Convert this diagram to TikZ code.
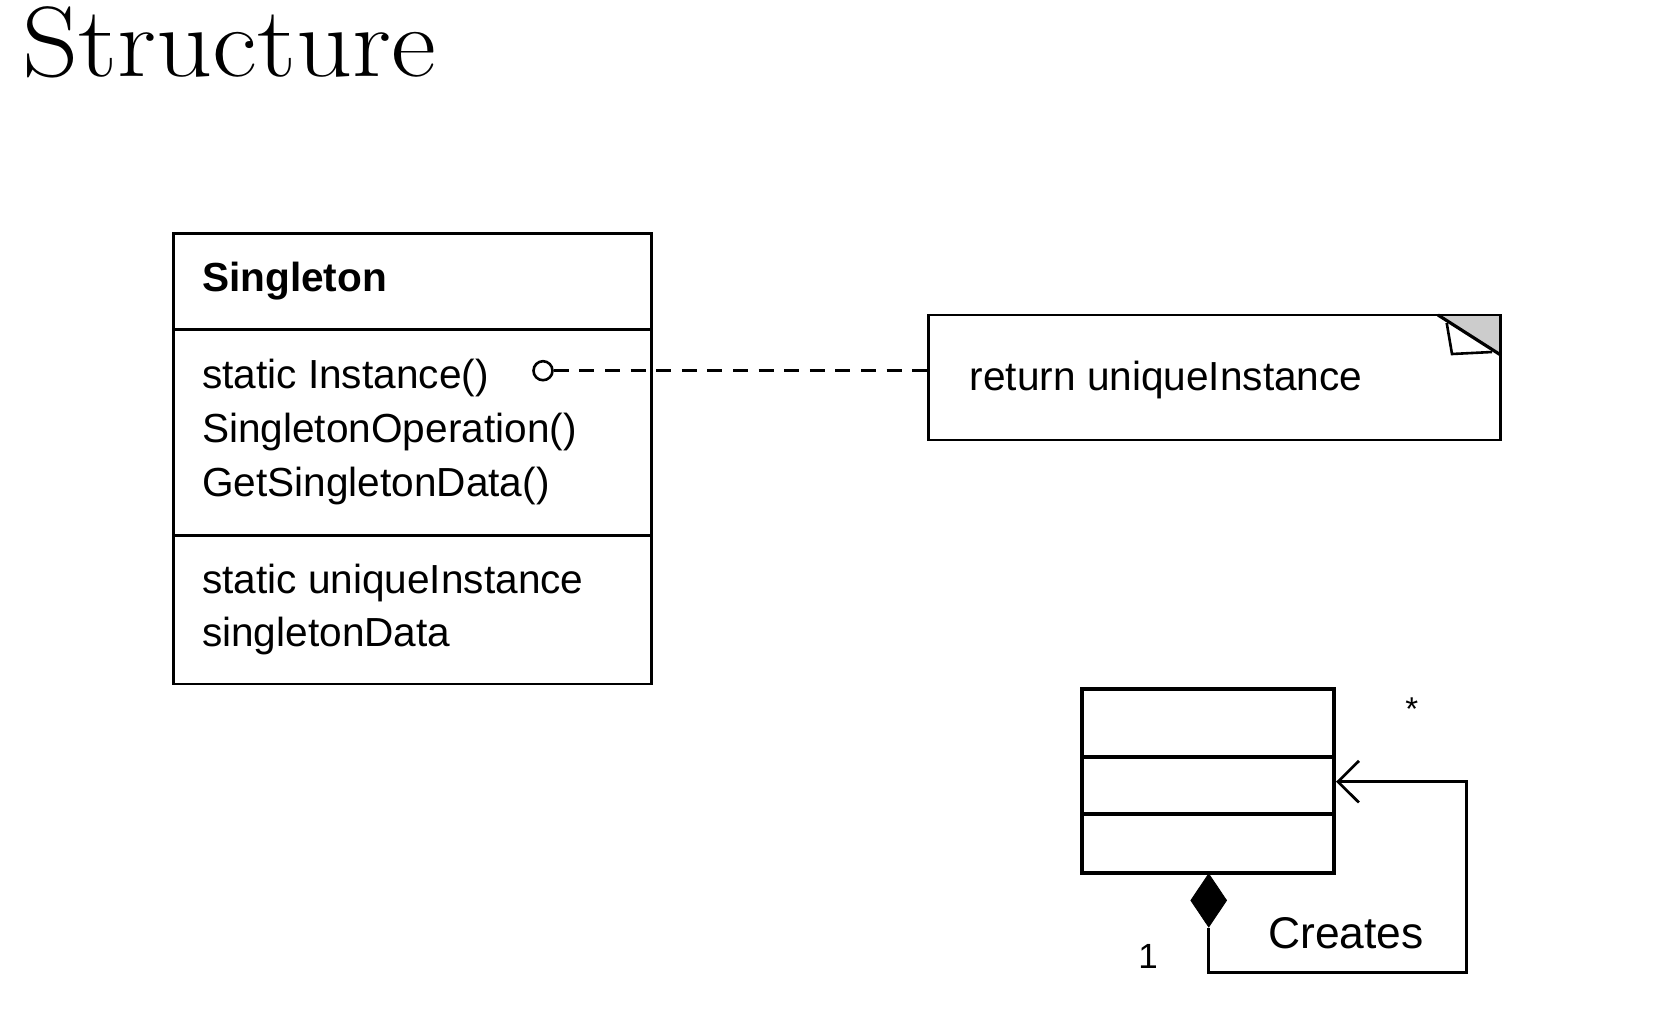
\documentclass[tikz,border=0pt]{standalone}
\usepackage{fontspec}
\setsansfont{Liberation Sans}
\usetikzlibrary{arrows.meta,shapes.geometric}
\begin{document}
\begin{tikzpicture}[x=0.5pt,y=-0.5pt,
  txt/.style={anchor=base west,inner sep=0pt,font=\sffamily\fontsize{20.3}{27}\selectfont},
  boldtxt/.style={txt,font=\sffamily\bfseries\fontsize{20.3}{27}\selectfont},
  classbox/.style={draw,line width=1.4pt,inner sep=0pt},
  thickbox/.style={draw,line width=2pt,inner sep=0pt},
  conn/.style={line width=1.35pt},
  dashconn/.style={line width=1.4pt,dash pattern=on 7.5pt off 5.3pt},
  lollipop/.style={circle,draw,line width=1.3pt,inner sep=0pt,minimum size=9.5pt,fill=white},
  composite/.style={diamond,fill=black,draw=black,inner sep=0pt,minimum width=18pt,minimum height=26.7pt},
  notebox/.style={draw,line width=1.4pt,inner sep=0pt}
]
\useasboundingbox (0,0) rectangle (1653,1013);

% title
\node[anchor=base west,inner sep=0pt,font=\fontsize{50}{60}\selectfont] (title) at (21.7,76) {\scalebox{1.1}[1.0]{Structure}};

% Singleton class
\node[classbox,minimum width=239.2pt,minimum height=225.35pt] (single) at (412.5,458.65) {};
\coordinate (d1) at (173.3,329.3);
\coordinate (d2) at (173.3,535.5);
\draw[line width=1.4pt] (d1) -- (d1 -| single.east);
\draw[line width=1.4pt] (d2) -- (d2 -| single.east);
\node[boldtxt] (sname) at (201.7,291) {Singleton};
\node[txt] (m1) at (201.7,388.3) {static Instance()};
\node[txt] (m2) at (201.7,442.7) {SingletonOperation()};
\node[txt] (m3) at (201.7,496.7) {GetSingletonData()};
\node[txt] (a1) at (201.7,593.3) {static uniqueInstance};
\node[txt] (a2) at (201.7,646.7) {singletonData};

% note
\node[notebox,minimum width=286.2pt,minimum height=62.5pt] (note) at (1214.5,377.5) {};
\coordinate (f1) at (1438,315);
\coordinate (f2) at (1500.7,315);
\coordinate (f3) at (1500.7,355);
\fill[black!20] (f1) -- (f2) -- (f3) -- cycle;
\draw[line width=1.4pt] (f1) -- (f2) -- (f3);
\draw[line width=1.6pt] (f1) -- (f3);
\draw[line width=1.3pt] (1446.7,323) -- (1452,354) -- (1492,352);
\node[txt] (ntext) at (969.3,390) {return uniqueInstance};

% lollipop + dashed connector
\node[lollipop] (lp) at (543,370.7) {};
\draw[dashconn] (lp.east) -- (lp.east -| note.west);

% bottom class
\node[thickbox,minimum width=126pt,minimum height=92.15pt] (cls) at (1208,781.15) {};
\coordinate (e1) at (1082,756.7);
\coordinate (e2) at (1082,814.3);
\draw[line width=2pt] (e1) -- (e1 -| cls.east);
\draw[line width=2pt] (e2) -- (e2 -| cls.east);

\node[composite,anchor=north] (dia) at (1208.7,873.3) {};
\coordinate (c1) at (1466.7,972.7);
\coordinate (c2) at (1466.7,781.7);
\draw[conn,-{Straight Barb[length=10.5pt,width=20.8pt,line width=1.35pt]}]
  (dia.south) |- (c1) -- (c2) -- (c2 -| cls.east);

\node[anchor=base west,inner sep=0pt,font=\sffamily\fontsize{22.2}{26}\selectfont] (creates) at (1268,948) {Creates};
\node[anchor=base west,inner sep=0pt,font=\sffamily\fontsize{17.5}{20}\selectfont] (one) at (1138,968) {1};
\node[inner sep=0pt,font=\sffamily\fontsize{16.5}{20}\selectfont] (star) at (1411.7,709) {*};
\end{tikzpicture}
\end{document}
